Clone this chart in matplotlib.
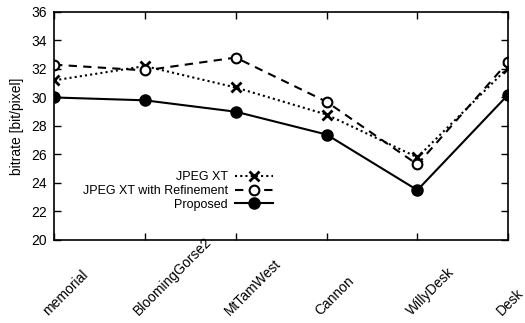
import matplotlib.pyplot as plt
import matplotlib.transforms as mtrans

images = ['memorial', 'BloomingGorse2', 'MtTamWest', 'Cannon', 'WillyDesk', 'Desk']
jpeg_xt = [31.2, 32.2, 30.7, 28.8, 25.8, 32.1]
jpeg_xt_ref = [32.3, 31.9, 32.8, 29.7, 25.3, 32.5]
proposed = [30.0, 29.8, 29.0, 27.4, 23.5, 30.2]

plt.rcParams['font.family'] = ['Liberation Sans', 'DejaVu Sans']

fig = plt.figure(figsize=(5.25, 3.23), dpi=100)
ax = fig.add_axes([0.103, 0.257, 0.865, 0.706])

x = list(range(len(images)))
ax.plot(x, jpeg_xt, color='black', linestyle=(0, (1, 1.5)), linewidth=1.5,
        marker='x', markersize=7, markeredgewidth=2, label='JPEG XT')
ax.plot(x, jpeg_xt_ref, color='black', linestyle=(0, (4, 3)), linewidth=1.5,
        marker='o', markersize=7, markerfacecolor='white', markeredgewidth=1.5,
        label='JPEG XT with Refinement')
ax.plot(x, proposed, color='black', linestyle='-', linewidth=1.5,
        marker='o', markersize=8, label='Proposed')

ax.set_xlim(0, len(images) - 1)
ax.set_ylim(20, 36)
ax.set_yticks(range(20, 37, 2))
ax.set_xticks(x)
ax.set_xticklabels([])

# gnuplot style: rotated labels start below-left of their ticks
base = mtrans.blended_transform_factory(ax.transData, ax.transAxes)
offset = mtrans.ScaledTranslation(-0.06, -0.76, fig.dpi_scale_trans)
for i, name in enumerate(images):
    ax.text(i, 0, name, transform=base + offset, rotation=45,
            rotation_mode='anchor', ha='left', va='baseline',
            fontsize=10, clip_on=False)

ax.tick_params(direction='in', top=True, right=True, length=5, width=1,
               labelsize=10)
ax.tick_params(axis='y', pad=5)
for s in ax.spines.values():
    s.set_linewidth(1.2)

ax.set_ylabel('bitrate [bit/pixel]', fontsize=10, labelpad=5)

leg = ax.legend(loc='center right', bbox_to_anchor=(0.493, 0.215), frameon=False,
                markerfirst=False, fontsize=9, handlelength=3.0,
                handletextpad=0.6, labelspacing=0.15, borderaxespad=0)
for t in leg.get_texts():
    t.set_ha('right')

fig.savefig('out.png', dpi=100)
